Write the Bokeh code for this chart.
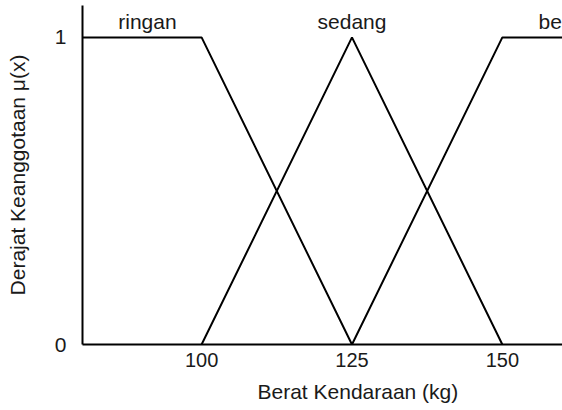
from bokeh.plotting import figure
from bokeh.models import Range1d, FixedTicker, Title
from bokeh.core.properties import value
from bokeh.embed import file_html
from bokeh.resources import INLINE

# Fuzzy membership functions for vehicle weight (kg)
ringan_x = [80, 100, 125]
ringan_mu = [1, 1, 0]
sedang_x = [100, 125, 150]
sedang_mu = [0, 1, 0]
berat_x = [125, 150, 160]
berat_mu = [0, 1, 1]

set_names = ["ringan", "sedang", "berat"]
set_label_x = [91, 125, 160]

x_ticks = [100, 125, 150]
y_ticks = [0, 1]

FONT = "Liberation Sans"
TEXT = "#1a1a1a"

p = figure(width=562, height=410, output_backend="svg", toolbar_location=None,
           x_range=Range1d(80.2, 160), y_range=Range1d(0, 1.104),
           min_border_left=82, min_border_right=0, min_border_top=5,
           min_border_bottom=65)
p.outline_line_color = None
p.grid.visible = False
p.background_fill_color = "white"
p.border_fill_color = "white"

for xs, ys in [(ringan_x, ringan_mu), (sedang_x, sedang_mu), (berat_x, berat_mu)]:
    p.line(xs, ys, line_color="black", line_width=2)

p.text(x=set_label_x, y=[1.052] * 3, text=set_names,
       text_font=value(FONT), text_font_size="21px", text_color=TEXT,
       text_align="center", text_baseline="alphabetic")

# axes
p.xaxis.ticker = FixedTicker(ticks=x_ticks)
p.yaxis.ticker = FixedTicker(ticks=y_ticks)
for ax in (p.xaxis, p.yaxis):
    ax.axis_line_color = "black"
    ax.axis_line_width = 2
    ax.major_tick_out = 0
    ax.major_tick_in = 0
    ax.minor_tick_out = 0
    ax.minor_tick_in = 0
    ax.major_label_text_font = FONT
    ax.major_label_text_color = TEXT
    ax.axis_label_text_font = FONT
    ax.axis_label_text_color = TEXT
    ax.axis_label_text_font_style = "normal"
    ax.axis_label_text_font_size = "21px"

p.xaxis.major_label_text_font_size = "20px"
p.xaxis.major_label_standoff = 8
p.yaxis.major_label_text_font_size = "21px"
p.yaxis.major_label_standoff = 16
p.yaxis.axis_label = "Derajat Keanggotaan \u03bc(x)"
p.yaxis.axis_label_standoff = 23

# x-axis title, set slightly right of the frame centre
p.add_layout(Title(text="Berat Kendaraan (kg)", align="left", offset=175,
                   text_font=FONT, text_font_size="21px", text_color=TEXT,
                   text_font_style="normal", standoff=16), "below")

open("out.html", "w").write(file_html(p, INLINE))
